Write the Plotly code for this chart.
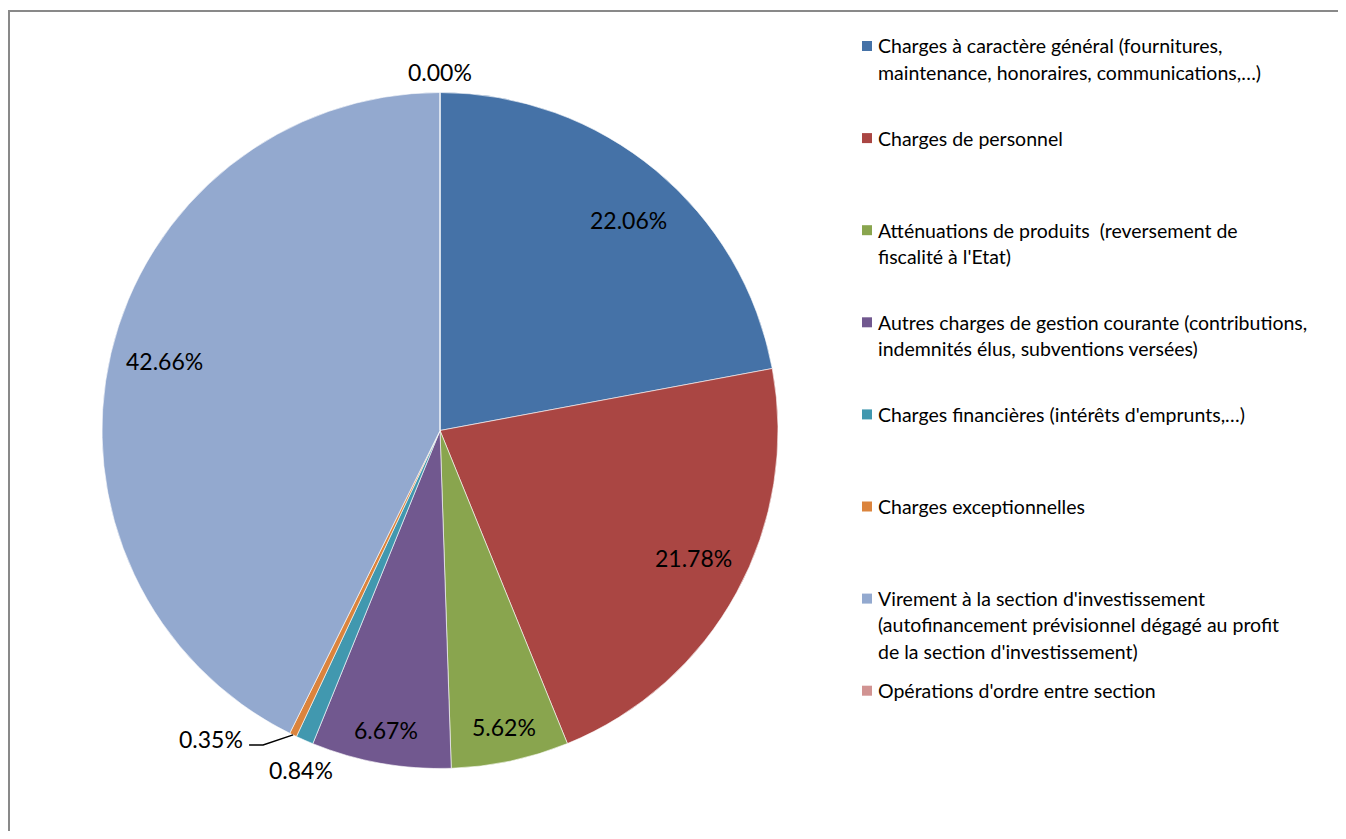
import math
import plotly.graph_objects as go

# ---------------- data ----------------
categories = [
    "Charges à caractère général (fournitures, maintenance, honoraires, communications,…)",
    "Charges de personnel",
    "Atténuations de produits  (reversement de fiscalité à l'Etat)",
    "Autres charges de gestion courante (contributions, indemnités élus, subventions versées)",
    "Charges financières (intérêts d'emprunts,…)",
    "Charges exceptionnelles",
    "Virement à la section d'investissement (autofinancement prévisionnel dégagé au profit de la section d'investissement)",
    "Opérations d'ordre entre section",
]
values = [22.06, 21.78, 5.62, 6.67, 0.84, 0.35, 42.66, 0.00]
legend_lines = [
    ["Charges à caractère général (fournitures,", "maintenance, honoraires, communications,…)"],
    ["Charges de personnel"],
    ["Atténuations de produits  (reversement de", "fiscalité à l'Etat)"],
    ["Autres charges de gestion courante (contributions,", "indemnités élus, subventions versées)"],
    ["Charges financières (intérêts d'emprunts,…)"],
    ["Charges exceptionnelles"],
    ["Virement à la section d'investissement", "(autofinancement prévisionnel dégagé au profit", "de la section d'investissement)"],
    ["Opérations d'ordre entre section"],
]

# ---------------- style / label placement ----------------
colors = ["#4572A7", "#AA4643", "#89A54E", "#71588F", "#4198AF", "#DB843D", "#93A9CF", "#D19392"]
label_radius = [0.84, 0.84, 0.90, 0.90, 1.085, None, 0.84, 1.06]
label_offset = [(7, 8), (4, -9), (1, -1), (-1, 0), (8, 3), (0, 0), (1, -5), (0, 0)]
FONT = "Lato"

# page offset (browser body margin) and figure size
OX, OY = 8, 8
W, H = 1334, 823
cx, cy, R = 440, 430.5, 338


def px(x):
    return (x - OX) / W


def py(y):
    return 1 - (y - OY) / H


fig = go.Figure(
    go.Pie(
        labels=categories,
        values=values,
        sort=False,
        direction="clockwise",
        rotation=0,
        marker=dict(colors=colors, line=dict(color="white", width=0.6)),
        textinfo="none",
        hoverinfo="label+percent",
        domain=dict(x=[px(cx - R), px(cx + R)], y=[py(cy + R), py(cy - R)]),
        showlegend=False,
    )
)

annotations = []
shapes = []

# ---------------- slice labels ----------------
total = sum(values)
cum = 0.0
for v, rf, (dx, dy) in zip(values, label_radius, label_offset):
    frac = (cum + v / 2) / total
    cum += v
    a = 2 * math.pi * frac
    txt = f"{v:.2f}%"
    if rf is None:
        # leader line label
        x0 = cx + R * math.sin(a)
        y0 = cy - R * math.cos(a)
        x1, y1 = x0 - 30, y0 + 10
        x2 = x1 - 14
        shapes.append(dict(
            type="path", xref="paper", yref="paper",
            path=f"M {px(x0)},{py(y0)} L {px(x1)},{py(y1)} L {px(x2)},{py(y1)}",
            line=dict(color="black", width=1.5),
        ))
        annotations.append(dict(
            x=px(x2 - 4), y=py(y1 - 6), xref="paper", yref="paper",
            text=txt, showarrow=False, xanchor="right", yanchor="middle",
            font=dict(family=FONT, size=23, color="black"),
        ))
        continue
    x = cx + rf * R * math.sin(a) + dx
    y = cy - rf * R * math.cos(a) + dy
    annotations.append(dict(
        x=px(x), y=py(y), xref="paper", yref="paper",
        text=txt, showarrow=False, xanchor="center", yanchor="middle",
        font=dict(family=FONT, size=23, color="black"),
    ))

# ---------------- legend ----------------
leg_y0, leg_step, line_h = 46, 92.1, 26.3
sq_x, sq_size, txt_x = 862, 10, 876
for k, (lines, col) in enumerate(zip(legend_lines, colors)):
    iy = leg_y0 + k * leg_step
    shapes.append(dict(
        type="rect", xref="paper", yref="paper",
        x0=px(sq_x), x1=px(sq_x + sq_size), y0=py(iy + sq_size / 2), y1=py(iy - sq_size / 2),
        fillcolor=col, line=dict(width=0),
    ))
    for j, ln in enumerate(lines):
        annotations.append(dict(
            x=px(txt_x), y=py(iy + j * line_h), xref="paper", yref="paper",
            text=ln, showarrow=False, xanchor="left", yanchor="middle",
            font=dict(family=FONT, size=19.5, color="black"),
        ))

# border
shapes.append(dict(
    type="rect", xref="paper", yref="paper",
    x0=px(9), x1=px(1341), y0=py(880), y1=py(11),
    line=dict(color="#898989", width=2), fillcolor="rgba(0,0,0,0)",
))

fig.update_layout(
    width=W, height=H,
    margin=dict(l=0, r=0, t=0, b=0, autoexpand=False),
    paper_bgcolor="white", plot_bgcolor="white",
    annotations=annotations, shapes=shapes,
    showlegend=False,
)

fig.write_html("out.html")
